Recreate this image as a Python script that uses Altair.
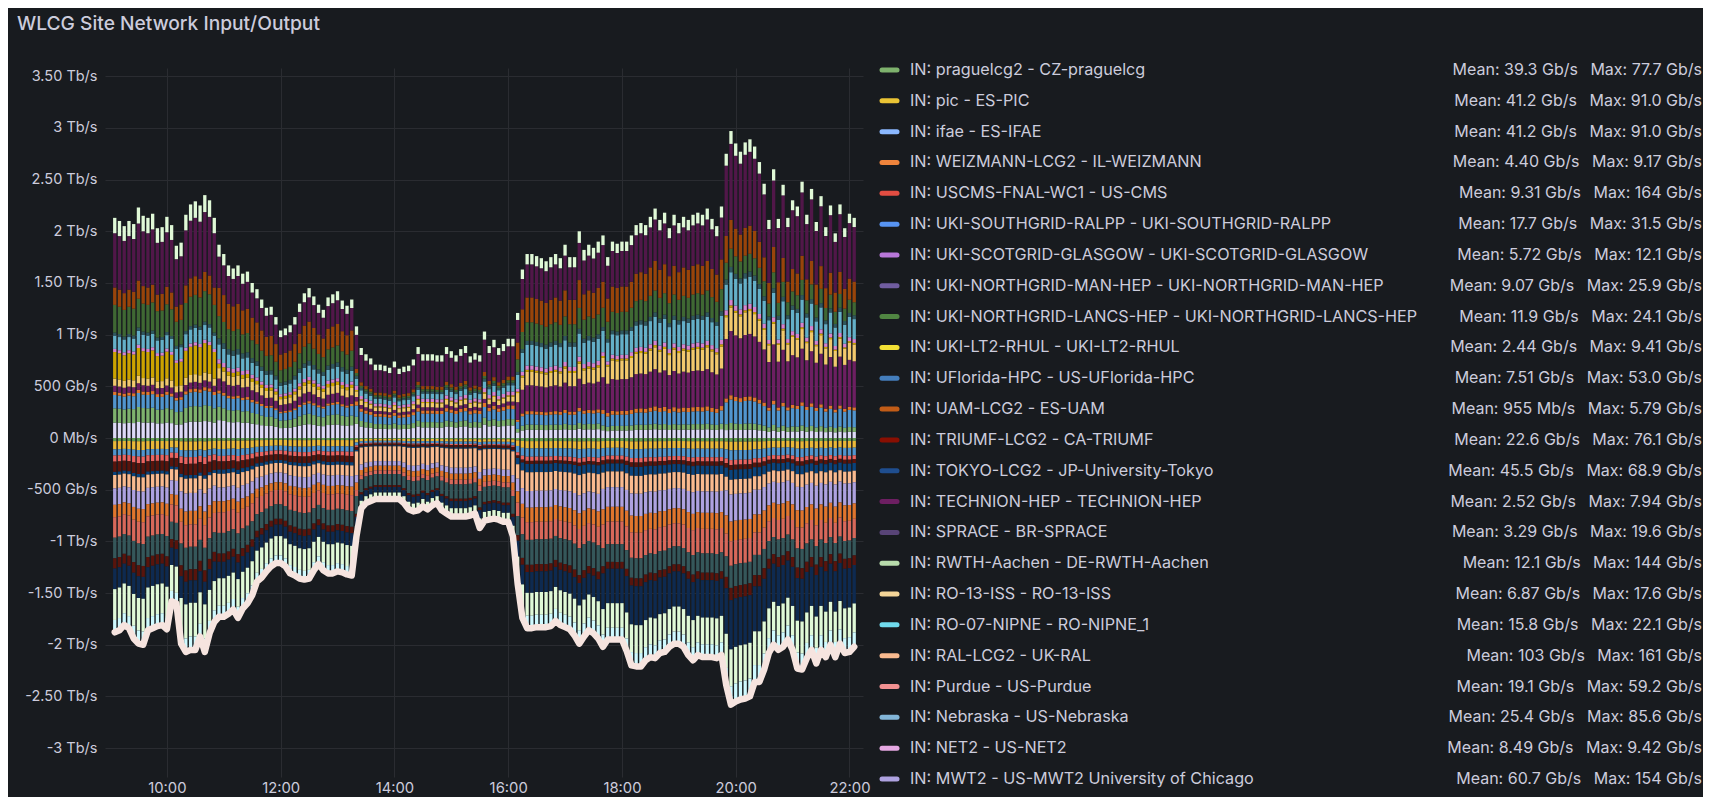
import altair as alt
import pandas as pd

title_text = "WLCG Site Network Input/Output"

# IN totals (Tb/s) per 5-min bar, 09:05 .. 22:05
in_total = [
    2.13, 2.10, 2.05, 2.10, 2.07, 2.23, 2.15, 2.13, 2.17, 2.03,
    2.04, 2.14, 2.06, 1.86, 1.89, 2.16, 2.26, 2.29, 2.25, 2.35,
    2.30, 2.13, 1.87, 1.78, 1.67, 1.64, 1.67, 1.59, 1.61, 1.50,
    1.44, 1.34, 1.26, 1.27, 1.17, 1.04, 1.06, 1.09, 1.17, 1.30,
    1.40, 1.45, 1.37, 1.29, 1.24, 1.36, 1.39, 1.42, 1.33, 1.28,
    1.34, 1.08, 0.87, 0.81, 0.77, 0.71, 0.71, 0.70, 0.68, 0.74,
    0.67, 0.69, 0.70, 0.76, 0.88, 0.81, 0.81, 0.81, 0.80, 0.80,
    0.88, 0.84, 0.80, 0.86, 0.89, 0.79, 0.82, 0.80, 1.03, 0.89,
    0.95, 0.87, 0.91, 0.96, 0.96, 1.21, 1.63, 1.78, 1.78, 1.76,
    1.74, 1.71, 1.75, 1.78, 1.74, 1.87, 1.75, 1.75, 2.00, 1.82,
    1.87, 1.84, 1.90, 1.96, 1.75, 1.90, 1.88, 1.90, 1.90, 1.96,
    2.06, 2.08, 2.06, 2.14, 2.22, 2.11, 2.18, 2.03, 2.16, 2.08,
    2.14, 2.11, 2.16, 2.18, 2.16, 2.22, 2.12, 2.05, 2.24, 2.75,
    2.97, 2.85, 2.77, 2.86, 2.89, 2.82, 2.67, 2.46, 2.11, 2.60,
    2.12, 2.45, 2.13, 2.30, 2.24, 2.48, 2.16, 2.41, 2.09, 2.34,
    2.04, 2.25, 1.98, 2.26, 2.03, 2.17, 2.13,
]

# OUT totals (Tb/s, negative) per bar
out_total = [
    -1.88, -1.86, -1.81, -1.84, -1.94, -1.99, -2.00, -1.86, -1.84, -1.82,
    -1.81, -1.85, -1.58, -1.60, -1.99, -2.07, -2.05, -2.05, -1.92, -2.07,
    -1.89, -1.78, -1.73, -1.73, -1.70, -1.66, -1.74, -1.65, -1.60, -1.52,
    -1.39, -1.35, -1.29, -1.24, -1.21, -1.21, -1.24, -1.31, -1.33, -1.36,
    -1.37, -1.36, -1.28, -1.22, -1.28, -1.31, -1.31, -1.29, -1.30, -1.32,
    -1.33, -0.95, -0.68, -0.63, -0.61, -0.59, -0.59, -0.59, -0.59, -0.59,
    -0.59, -0.63, -0.69, -0.71, -0.70, -0.66, -0.69, -0.65, -0.63, -0.70,
    -0.73, -0.76, -0.76, -0.76, -0.76, -0.75, -0.73, -0.87, -0.80, -0.79,
    -0.78, -0.79, -0.81, -0.81, -0.95, -1.41, -1.74, -1.84, -1.84, -1.83,
    -1.83, -1.83, -1.82, -1.77, -1.81, -1.83, -1.85, -1.91, -1.99, -1.92,
    -1.86, -1.89, -1.94, -2.02, -1.95, -1.95, -1.95, -1.95, -2.06, -2.20,
    -2.21, -2.21, -2.15, -2.12, -2.13, -2.08, -2.07, -2.02, -1.99, -1.99,
    -2.02, -2.10, -2.15, -2.10, -2.12, -2.12, -2.12, -2.13, -2.10, -2.39,
    -2.58, -2.55, -2.53, -2.52, -2.50, -2.36, -2.36, -2.24, -2.08, -2.00,
    -2.05, -2.02, -1.95, -2.05, -2.23, -2.24, -2.13, -2.05, -2.18, -2.05,
    -2.12, -2.00, -2.12, -1.99, -2.08, -2.07, -2.02,
]

# first bar (1-based) of each period with a similar stack composition
regime_first_bar = [1, 23, 52, 86, 104, 130]

# IN stack bands, from zero upward: colour and typical size per period
in_colors = ["#DEDAF7", "#7EB26D", "#5195CE", "#E0752D", "#6D1F62", "#F2C96D", "#CCA300",
             "#D683CE", "#64B0C8", "#2F575E", "#3F6833", "#99440A", "#511749", "#E0F9D7"]
in_ref = [
    [0.15, 0.12, 0.10, 0.08, 0.08, 0.08],
    [0.14, 0.09, 0.05, 0.05, 0.05, 0.06],
    [0.13, 0.09, 0.08, 0.10, 0.12, 0.22],
    [0.03, 0.02, 0.03, 0.03, 0.04, 0.04],
    [0.06, 0.08, 0.03, 0.25, 0.34, 0.60],
    [0.07, 0.07, 0.04, 0.13, 0.20, 0.22],
    [0.26, 0.03, 0.01, 0.02, 0.02, 0.02],
    [0.03, 0.03, 0.03, 0.04, 0.04, 0.05],
    [0.13, 0.10, 0.05, 0.20, 0.22, 0.26],
    [0.03, 0.04, 0.02, 0.04, 0.04, 0.05],
    [0.27, 0.15, 0.02, 0.18, 0.20, 0.17],
    [0.17, 0.19, 0.03, 0.24, 0.27, 0.27],
    [0.53, 0.21, 0.24, 0.32, 0.38, 0.71],
    [0.15, 0.08, 0.06, 0.10, 0.10, 0.12],
]

# OUT stack bands, from zero downward
out_colors = ["#629E51", "#EAB839", "#5195CE", "#EA6460", "#58140C", "#0A437C", "#F9BA8F",
              "#AEA2E0", "#E0752D", "#D8685A", "#35575A", "#58140C", "#0E2A50", "#E0F9D7", "#CFFAFF"]
out_ref = [
    [0.03, 0.02, 0.01, 0.03, 0.03, 0.03],
    [0.08, 0.06, 0.02, 0.07, 0.07, 0.07],
    [0.06, 0.05, 0.02, 0.08, 0.08, 0.08],
    [0.06, 0.04, 0.01, 0.04, 0.04, 0.04],
    [0.10, 0.06, 0.02, 0.03, 0.04, 0.04],
    [0.03, 0.03, 0.01, 0.08, 0.08, 0.08],
    [0.13, 0.10, 0.16, 0.18, 0.16, 0.12],
    [0.16, 0.10, 0.05, 0.16, 0.20, 0.22],
    [0.12, 0.08, 0.05, 0.14, 0.15, 0.16],
    [0.20, 0.15, 0.04, 0.17, 0.23, 0.20],
    [0.20, 0.15, 0.12, 0.24, 0.18, 0.18],
    [0.10, 0.06, 0.02, 0.07, 0.07, 0.10],
    [0.20, 0.12, 0.06, 0.20, 0.35, 0.40],
    [0.30, 0.20, 0.05, 0.22, 0.25, 0.30],
    [0.12, 0.08, 0.02, 0.12, 0.12, 0.15],
]

y_tick_values = [3.5, 3.0, 2.5, 2.0, 1.5, 1.0, 0.5, 0.0, -0.5, -1.0, -1.5, -2.0, -2.5, -3.0]
y_tick_labels = ["3.50 Tb/s", "3 Tb/s", "2.50 Tb/s", "2 Tb/s", "1.50 Tb/s", "1 Tb/s", "500 Gb/s",
                 "0 Mb/s", "-500 Gb/s", "-1 Tb/s", "-1.50 Tb/s", "-2 Tb/s", "-2.50 Tb/s", "-3 Tb/s"]
x_tick_hours = [10, 12, 14, 16, 18, 20, 22]

legend_names = [
    "IN: praguelcg2 - CZ-praguelcg", "IN: pic - ES-PIC", "IN: ifae - ES-IFAE",
    "IN: WEIZMANN-LCG2 - IL-WEIZMANN", "IN: USCMS-FNAL-WC1 - US-CMS",
    "IN: UKI-SOUTHGRID-RALPP - UKI-SOUTHGRID-RALPP", "IN: UKI-SCOTGRID-GLASGOW - UKI-SCOTGRID-GLASGOW",
    "IN: UKI-NORTHGRID-MAN-HEP - UKI-NORTHGRID-MAN-HEP", "IN: UKI-NORTHGRID-LANCS-HEP - UKI-NORTHGRID-LANCS-HEP",
    "IN: UKI-LT2-RHUL - UKI-LT2-RHUL", "IN: UFlorida-HPC - US-UFlorida-HPC", "IN: UAM-LCG2 - ES-UAM",
    "IN: TRIUMF-LCG2 - CA-TRIUMF", "IN: TOKYO-LCG2 - JP-University-Tokyo", "IN: TECHNION-HEP - TECHNION-HEP",
    "IN: SPRACE - BR-SPRACE", "IN: RWTH-Aachen - DE-RWTH-Aachen", "IN: RO-13-ISS - RO-13-ISS",
    "IN: RO-07-NIPNE - RO-NIPNE_1", "IN: RAL-LCG2 - UK-RAL", "IN: Purdue - US-Purdue",
    "IN: Nebraska - US-Nebraska", "IN: NET2 - US-NET2", "IN: MWT2 - US-MWT2 University of Chicago",
]
legend_means = ["39.3 Gb/s", "41.2 Gb/s", "41.2 Gb/s", "4.40 Gb/s", "9.31 Gb/s", "17.7 Gb/s",
                "5.72 Gb/s", "9.07 Gb/s", "11.9 Gb/s", "2.44 Gb/s", "7.51 Gb/s", "955 Mb/s",
                "22.6 Gb/s", "45.5 Gb/s", "2.52 Gb/s", "3.29 Gb/s", "12.1 Gb/s", "6.87 Gb/s",
                "15.8 Gb/s", "103 Gb/s", "19.1 Gb/s", "25.4 Gb/s", "8.49 Gb/s", "60.7 Gb/s"]
legend_maxes = ["77.7 Gb/s", "91.0 Gb/s", "91.0 Gb/s", "9.17 Gb/s", "164 Gb/s", "31.5 Gb/s",
                "12.1 Gb/s", "25.9 Gb/s", "24.1 Gb/s", "9.41 Gb/s", "53.0 Gb/s", "5.79 Gb/s",
                "76.1 Gb/s", "68.9 Gb/s", "7.94 Gb/s", "19.6 Gb/s", "144 Gb/s", "17.6 Gb/s",
                "22.1 Gb/s", "161 Gb/s", "59.2 Gb/s", "85.6 Gb/s", "9.42 Gb/s", "154 Gb/s"]
legend_colors = ["#7EB26D", "#EAC435", "#8AB8FF", "#EF843C", "#E24D42", "#5794F2", "#B877D9",
                 "#705DA0", "#508642", "#F2E035", "#447EBC", "#C15C17", "#890F02", "#1F4E8F",
                 "#6D1F62", "#584477", "#B7DBAB", "#F4D598", "#70DBED", "#F9BA8F", "#F29191",
                 "#82B5D8", "#E5A8E2", "#AEA2E0"]

# ---------------------------------------------------------------- build tables
times = pd.date_range("2024-01-01 09:05", periods=len(in_total), freq="5min")


def regime_of(bar_no):
    r = 0
    for j, first in enumerate(regime_first_bar):
        if bar_no >= first:
            r = j
    return r


in_rows, out_rows = [], []
for i, t in enumerate(times):
    r = regime_of(i + 1)
    s_in = sum(band[r] for band in in_ref)
    for k, band in enumerate(in_ref):
        in_rows.append({"time": t, "band": f"in{k:02d}", "k": k, "value": in_total[i] * band[r] / s_in})
    s_out = sum(band[r] for band in out_ref)
    for k, band in enumerate(out_ref):
        out_rows.append({"time": t, "band": f"out{k:02d}", "k": k, "value": out_total[i] * band[r] / s_out})

in_df = pd.DataFrame(in_rows)
out_df = pd.DataFrame(out_rows)
line_df = pd.DataFrame({"time": times, "value": out_total})

band_domain = [f"in{k:02d}" for k in range(len(in_colors))] + [f"out{k:02d}" for k in range(len(out_colors))]
band_range = in_colors + out_colors

label_expr = "''"
for v, lab in reversed(list(zip(y_tick_values, y_tick_labels))):
    label_expr = f"abs(datum.value - ({v})) < 0.001 ? '{lab}' : ({label_expr})"

TXT = "#ccccdc"
FONT = "Inter"
GRID = "#2a2c31"

x_scale = alt.Scale(domain=[alt.DateTime(year=2024, month=1, date=1, hours=9),
                            alt.DateTime(year=2024, month=1, date=1, hours=22, minutes=9)])
x_axis = alt.Axis(values=[alt.DateTime(year=2024, month=1, date=1, hours=h) for h in x_tick_hours],
                  format="%H:%M", title=None, grid=True, gridColor=GRID, domain=False, ticks=False,
                  labelColor=TXT, labelFont=FONT, labelFontSize=14.8, labelPadding=3)
y_scale = alt.Scale(domain=[-3.28, 3.58], nice=False, zero=False)
y_axis = alt.Axis(values=y_tick_values, labelExpr=label_expr, title=None, grid=True, gridColor=GRID,
                  domain=False, ticks=False, labelColor=TXT, labelFont=FONT, labelFontSize=14.5,
                  labelPadding=8)
color_enc = alt.Color("band:N", scale=alt.Scale(domain=band_domain, range=band_range), legend=None)

in_bars = alt.Chart(in_df).mark_bar(size=3.3).encode(
    x=alt.X("time:T", scale=x_scale, axis=x_axis),
    y=alt.Y("value:Q", stack="zero", scale=y_scale, axis=y_axis),
    color=color_enc,
    order=alt.Order("k:Q", sort="ascending"),
)
out_bars = alt.Chart(out_df).mark_bar(size=3.3).encode(
    x=alt.X("time:T", scale=x_scale, axis=x_axis),
    y=alt.Y("value:Q", stack="zero", scale=y_scale, axis=y_axis),
    color=color_enc,
    order=alt.Order("k:Q", sort="ascending"),
)
out_line = alt.Chart(line_df).mark_line(color="#f6e4df", strokeWidth=6.5, strokeJoin="round",
                                        strokeCap="round").encode(
    x=alt.X("time:T", scale=x_scale, axis=x_axis),
    y=alt.Y("value:Q", scale=y_scale, axis=y_axis),
)
main = alt.layer(in_bars, out_bars, out_line)

leg_df = pd.DataFrame({
    "row": list(range(len(legend_names))),
    "name": legend_names,
    "stats": [f"Mean: {m}\u2002 Max: {x}" for m, x in zip(legend_means, legend_maxes)],
    "color": legend_colors,
})
row_y = alt.Y("row:Q", scale=alt.Scale(domain=[0, len(legend_names) - 1], range=[2, 711]), axis=None)
swatches = alt.Chart(leg_df).mark_rule(strokeWidth=5, strokeCap="round").encode(
    x=alt.value(777), x2=alt.value(792), y=row_y, color=alt.Color("color:N", scale=None, legend=None))
names = alt.Chart(leg_df).mark_text(align="left", baseline="middle", font=FONT, fontSize=16.2,
                                    color=TXT).encode(x=alt.value(805), y=row_y, text="name:N")
stats = alt.Chart(leg_df).mark_text(align="right", baseline="middle", font=FONT, fontSize=16,
                                    color=TXT).encode(x=alt.value(1597), y=row_y, text="stats:N")
title = alt.Chart(pd.DataFrame({"t": [title_text]})).mark_text(
    align="left", baseline="middle", font=FONT, fontSize=19.2, fontWeight=500, color=TXT).encode(
    x=alt.value(-88), y=alt.value(-44), text="t:N")
legend = alt.layer(swatches, names, stats, title)

chart = alt.layer(main, legend).resolve_scale(y="independent", color="independent").properties(
    width=758, height=709,
    autosize=alt.AutoSizeParams(type="none"),
    padding={"left": 97, "top": 60, "right": 840, "bottom": 20},
    background="#181b1f",
).configure_view(stroke=None)

chart.save("out.html", embed_options={"renderer": "svg", "actions": False})
